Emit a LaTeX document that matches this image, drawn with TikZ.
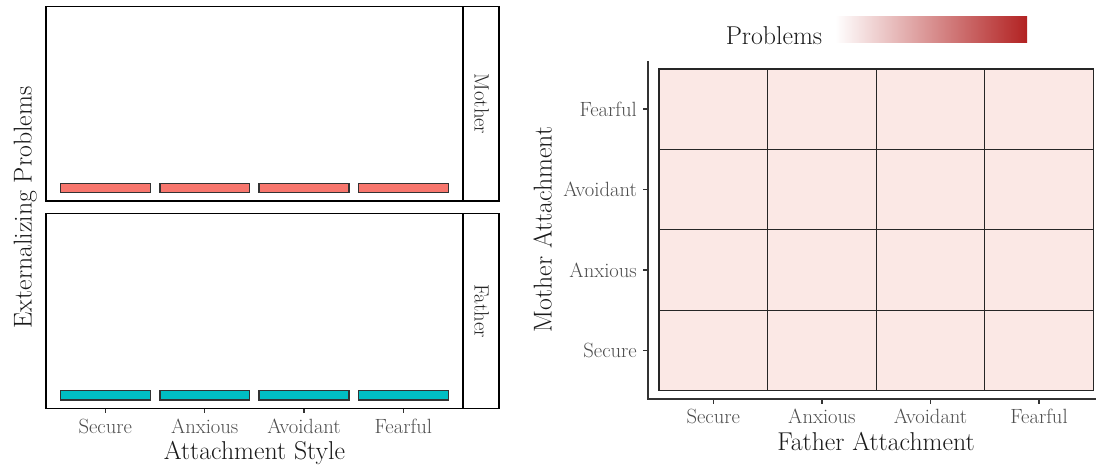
\documentclass[tikz,border=0pt]{standalone}
\usepackage{xcolor}
\definecolor{barred}{HTML}{F8766D}
\definecolor{barcyan}{HTML}{00BFC4}
\definecolor{tilefill}{HTML}{FBE8E5}
\definecolor{tickgrey}{HTML}{4D4D4D}
\definecolor{axisgrey}{HTML}{333333}
\definecolor{fire}{HTML}{B22222}
\newcommand{\bigtxt}{\fontsize{25.8}{30}\selectfont}
\newcommand{\smalltxt}{\fontsize{20.6}{24}\selectfont}
\begin{document}
\begin{tikzpicture}[x=1pt,y=-1pt,
  panel/.style={draw=black,line width=1.6pt},
  stripbox/.style={draw=black,line width=1.6pt,fill=white},
  barbox/.style={draw=axisgrey,line width=1.3pt},
  tile/.style={draw=black!85,line width=1.2pt,fill=tilefill},
  axisline/.style={draw=axisgrey,line width=1.6pt},
  tickmark/.style={draw=axisgrey,line width=1.4pt},
  ticklab/.style={inner sep=0pt,font=\smalltxt,text=tickgrey},
  title/.style={inner sep=0pt,font=\bigtxt,text=black!90},
  striplab/.style={inner sep=0pt,font=\smalltxt,text=black!85,rotate=-90,anchor=base}
]
\useasboundingbox (0,0) rectangle (1096,468);
% ---------- left facets ----------
\draw[panel] (46,6.5) rectangle (463,201);
\draw[stripbox] (463,6.5) rectangle (499,201);
\draw[panel] (46,213.5) rectangle (463,408.5);
\draw[stripbox] (463,213.5) rectangle (499,408.5);
\node[striplab] (smother) at (474.5,104) {Mother};
\node[striplab] (sfather) at (474.5,311) {Father};
% bars
\foreach \a/\b [count=\i] in {60.5/150.5,160/249.5,259/349,358.5/448.3}{
  \draw[barbox,fill=barred] (\a,183.5) rectangle (\b,192.5);
  \draw[barbox,fill=barcyan] (\a,390.8) rectangle (\b,400);
}
% x ticks
\foreach \x/\t in {105.3/Secure,204.7/Anxious,304/Avoidant,403.3/Fearful}{
  \draw[tickmark] (\x,408.5) -- (\x,413);
  \node[ticklab,anchor=base] (lx\t) at (\x,433) {\t};
}
\node[title,anchor=base] (lxt) at (254.5,459) {Attachment Style};
\node[title,anchor=base,rotate=90] (lyt) at (31.5,207.5) {Externalizing Problems};
% ---------- right heatmap ----------
\foreach \c in {0,1,2,3}{
  \foreach \r in {0,1,2,3}{
    \pgfmathsetmacro{\xa}{659+108.575*\c}
    \pgfmathsetmacro{\xb}{659+108.575*(\c+1)}
    \pgfmathsetmacro{\ya}{69+80.4*\r}
    \pgfmathsetmacro{\yb}{69+80.4*(\r+1)}
    \draw[tile] (\xa,\ya) rectangle (\xb,\yb);
  }
}
\draw[axisline] (648,61) -- (648,399) -- (1096,399);
\foreach \x/\t in {713.3/Secure,821.9/Anxious,930.5/Avoidant,1039/Fearful}{
  \draw[tickmark] (\x,399) -- (\x,404);
  \node[ticklab,anchor=base] (rx\t) at (\x,423.5) {\t};
}
\foreach \y/\t in {350.4/Secure,270/Anxious,189.6/Avoidant,109.2/Fearful}{
  \draw[tickmark] (643,\y) -- (648,\y);
  \node[ticklab,anchor=east] (ry\t) at (637,\y) {\t};
}
\node[title,anchor=base] (rxt) at (876,450) {Father Attachment};
\node[title,anchor=base,rotate=90] (ryt) at (551.5,229.5) {Mother Attachment};
% legend
\node[title,anchor=base] (leg) at (774,44.3) {Problems};
\shade[left color=white,right color=fire] (835,16.7) rectangle (1027,42.3);
\end{tikzpicture}
\end{document}
